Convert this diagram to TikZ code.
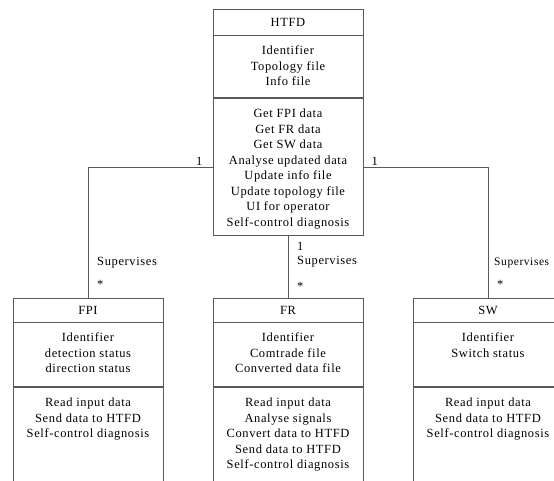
\documentclass[tikz,border=0pt]{standalone}
\usepackage{fontspec}
\setmainfont{Liberation Serif}[LetterSpace=5]
\usepackage{tikz}
\usetikzlibrary{positioning}
\colorlet{linegray}{black!65}
\tikzstyle{head}  = [rectangle, minimum width=150pt, minimum height=24pt, inner sep=0pt, draw=linegray, line width=0.9pt]
\tikzstyle{part}  = [rectangle, minimum width=150pt, inner sep=0pt, draw=linegray, line width=0.9pt]
\tikzstyle{txt}   = [align=center, inner sep=0pt]
\tikzstyle{lab}   = [anchor=base west, inner sep=0pt]
\tikzstyle{link}  = [draw=linegray, line width=0.9pt]

\begin{document}
\begin{tikzpicture}[x=1pt, y=-1pt, font=\fontsize{12.5}{15.5}\selectfont]
      \useasboundingbox (0,0) rectangle (554,481);
      \clip (0,0) rectangle (554,481);

      % the supervisor
      \node (htfd)   [head, minimum height=25.5pt] at (288,22.25) {HTFD};
      \node (htfdA)  [part, minimum height=62pt,  below=0pt of htfd]  {};
      \node (htfdM)  [part, minimum height=137pt, below=0pt of htfdA] {};
      \node (htfdAt) [txt, below=10.5pt of htfdA.north] {Identifier\\Topology file\\Info file};
      \node (htfdMt) [txt, below=10.5pt of htfdM.north] {Get FPI data\\Get FR data\\Get SW data\\Analyse updated data\\Update info file\\Update topology file\\UI for operator\\Self-control diagnosis};

      % the supervised units
      \node (fpi)    [head] at (88,310)  {FPI};
      \node (fpiA)   [part, minimum height=64pt,  below=0pt of fpi]  {};
      \node (fpiM)   [part, minimum height=120pt, below=0pt of fpiA] {};
      \node (fpiAt)  [txt, below=10.5pt of fpiA.north] {Identifier\\detection status\\direction status};
      \node (fpiMt)  [txt, below=10.5pt of fpiM.north] {Read input data\\Send data to HTFD\\Self-control diagnosis};

      \node (fr)     [head] at (288,310) {FR};
      \node (frA)    [part, minimum height=64pt,  below=0pt of fr]  {};
      \node (frM)    [part, minimum height=120pt, below=0pt of frA] {};
      \node (frAt)   [txt, below=10.5pt of frA.north] {Identifier\\Comtrade file\\Converted data file};
      \node (frMt)   [txt, below=10.5pt of frM.north] {Read input data\\Analyse signals\\Convert data to HTFD\\Send data to HTFD\\Self-control diagnosis};

      \node (sw)     [head] at (488,310) {SW};
      \node (swA)    [part, minimum height=64pt,  below=0pt of sw]  {};
      \node (swM)    [part, minimum height=120pt, below=0pt of swA] {};
      \node (swAt)   [txt, below=10.5pt of swA.north] {Identifier\\Switch status};
      \node (swMt)   [txt, below=10.5pt of swM.north] {Read input data\\Send data to HTFD\\Self-control diagnosis};

      % associations
      \draw [link] (htfdM.west)  -| (fpi.north);
      \draw [link] (htfdM.south) -- (fr.north);
      \draw [link] (htfdM.east)  -| (sw.north);

      \node (fpiOne)  [anchor=base east, inner sep=0pt] at ([xshift=-10pt, yshift=1.5pt]htfdM.west) {1};
      \node (fpiSup)  [lab] at ([xshift=9pt, yshift=32pt]fpi.north) {Supervises};
      \node (fpiStar) [lab] at ([xshift=9pt, yshift=9pt]fpi.north)  {*};

      \node (frOne)   [lab] at ([xshift=9pt, yshift=47pt]fr.north) {1};
      \node (frSup)   [lab] at ([xshift=9pt, yshift=33pt]fr.north) {Supervises};
      \node (frStar)  [lab] at ([xshift=9pt, yshift=7pt]fr.north)  {*};

      \node (swOne)   [lab] at ([xshift=8pt, yshift=1.5pt]htfdM.east) {1};
      \node (swSup)   [lab, font=\fontsize{11.5}{15.5}\selectfont] at ([xshift=6pt, yshift=32pt]sw.north) {Supervises};
      \node (swStar)  [lab] at ([xshift=9pt, yshift=9pt]sw.north)  {*};

    \end{tikzpicture}
\end{document}
